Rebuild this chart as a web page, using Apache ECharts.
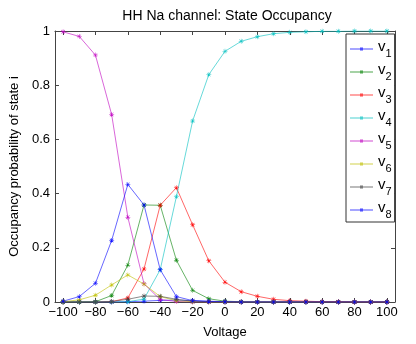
<!DOCTYPE html>
<html>
<head>
<meta charset="utf-8">
<script src="https://cdn.jsdelivr.net/npm/echarts@6/dist/echarts.min.js"></script>
<style>
  html, body { margin: 0; padding: 0; background: #fff; }
  #chart { width: 416px; height: 344px; }
</style>
</head>
<body>
<div id="chart"></div>
<script>
// voltages -100..100 mV
const voltage = [-100, -90, -80, -70, -60, -50, -40, -30, -20, -10, 0, 10, 20, 30, 40, 50, 60, 70, 80, 90, 100]
const xTicks = [-100, -80, -60, -40, -20, 0, 20, 40, 60, 80, 100]

const v1 = [0, 0, 0, 0, 0.001, 0.003, 0.006, 0.007, 0.005, 0.003, 0.001, 0, 0, 0, 0, 0, 0, 0, 0, 0, 0]
const v2 = [0, 0, 0.001, 0.024, 0.136, 0.358, 0.357, 0.154, 0.043, 0.012, 0.003, 0.001, 0, 0, 0, 0, 0, 0, 0, 0, 0]
const v3 = [0, 0, 0, 0.001, 0.015, 0.122, 0.357, 0.422, 0.285, 0.152, 0.073, 0.038, 0.021, 0.01, 0.005, 0.003, 0.001, 0.001, 0, 0, 0]
const v4 = [0, 0, 0, 0, 0.001, 0.011, 0.119, 0.389, 0.668, 0.839, 0.925, 0.962, 0.979, 0.99, 0.995, 0.997, 0.999, 0.999, 1, 1, 1]
const v5 = [0.997, 0.98, 0.911, 0.692, 0.313, 0.067, 0.009, 0.002, 0, 0, 0, 0, 0, 0, 0, 0, 0, 0, 0, 0, 0]
const v6 = [0.001, 0.008, 0.025, 0.063, 0.1, 0.066, 0.02, 0.005, 0.001, 0, 0, 0, 0, 0, 0, 0, 0, 0, 0, 0, 0]
const v7 = [0, 0, 0, 0.002, 0.01, 0.022, 0.021, 0.01, 0.003, 0.001, 0, 0, 0, 0, 0, 0, 0, 0, 0, 0, 0]
const v8 = [0.003, 0.02, 0.069, 0.227, 0.434, 0.358, 0.119, 0.02, 0.005, 0.002, 0.001, 0, 0, 0, 0, 0, 0, 0, 0, 0, 0]

const names = ['v1', 'v2', 'v3', 'v4', 'v5', 'v6', 'v7', 'v8']
const values = [v1, v2, v3, v4, v5, v6, v7, v8]
const colors = ['#0000ff', '#008000', '#ff0000', '#00bfbf', '#bf00bf', '#bfbf00', '#404040', '#0000ff']

// asterisk marker like matlab '*'
const STAR = 'path://M0,4.5L10,4.5L10,5.5L0,5.5Z M4.5,0L5.5,0L5.5,10L4.5,10Z M1.1,1.8L1.8,1.1L8.9,8.2L8.2,8.9Z M8.2,1.1L8.9,1.8L1.8,8.9L1.1,8.2Z'
// legend icon: thin line with a small square in the middle
const LEG_ICON = 'path://M0,1.6L23,1.6L23,2.4L0,2.4Z M10,0.5L13,0.5L13,3.5L10,3.5Z'

const FONT = 'Liberation Sans'
const minus = v => String(v).replace('-', '\u2212')

const chart = echarts.init(document.getElementById('chart'), null, { renderer: 'canvas' })

const series = names.map((n, i) => ({
  name: n,
  type: 'line',
  data: voltage.map((x, j) => [x, values[i][j]]),
  symbol: STAR,
  symbolSize: 5,
  showSymbol: true,
  itemStyle: { color: colors[i], opacity: 0.85 },
  lineStyle: { color: colors[i], width: 1, opacity: 0.6 },
  emphasis: { disabled: true },
  animation: false
}))

const axisLine = { show: true, onZero: false, lineStyle: { color: '#444', width: 1 } }
const tick = { show: true, inside: true, length: 4, lineStyle: { color: '#444' } }

chart.setOption({
  backgroundColor: '#fff',
  title: {
    text: 'HH Na channel: State Occupancy',
    left: 222,
    textAlign: 'center',
    top: 4,
    textStyle: { fontFamily: FONT, fontSize: 14, fontWeight: 'normal', color: '#000' }
  },
  grid: { left: 48, right: 21, top: 31, bottom: 39 },
  legend: {
    orient: 'vertical',
    left: 346,
    top: 34,
    padding: [5, 3, 2, 4],
    itemWidth: 23,
    itemHeight: 4,
    itemGap: 3,
    borderColor: '#333',
    borderWidth: 1,
    backgroundColor: '#fff',
    data: names.map(n => ({ name: n, icon: LEG_ICON, itemStyle: { opacity: 0.7 } })),
    formatter: n => '{a|v}{b|' + n.slice(1) + '}',
    textStyle: {
      fontFamily: FONT,
      color: '#000',
      rich: {
        a: { fontFamily: FONT, fontSize: 15, lineHeight: 20, verticalAlign: 'top', color: '#000' },
        b: { fontFamily: FONT, fontSize: 11, lineHeight: 20, verticalAlign: 'bottom', color: '#000' }
      }
    }
  },
  xAxis: [{
    type: 'value',
    min: -105,
    max: 105,
    name: 'Voltage',
    nameLocation: 'middle',
    nameGap: 24,
    nameTextStyle: { fontFamily: FONT, fontSize: 13, color: '#000' },
    axisLine: axisLine,
    axisTick: Object.assign({ customValues: xTicks }, tick),
    axisLabel: { customValues: xTicks, formatter: minus, fontFamily: FONT, fontSize: 13, color: '#000', margin: 4 },
    splitLine: { show: false }
  }, {
    type: 'value',
    position: 'top',
    min: -105,
    max: 105,
    axisLine: axisLine,
    axisTick: Object.assign({ customValues: xTicks }, tick),
    axisLabel: { show: false },
    splitLine: { show: false }
  }],
  yAxis: [{
    type: 'value',
    min: 0,
    max: 1,
    interval: 0.2,
    name: 'Occupancy probability of state i',
    nameLocation: 'middle',
    nameGap: 33,
    nameTextStyle: { fontFamily: FONT, fontSize: 13, color: '#000' },
    axisLine: axisLine,
    axisTick: tick,
    axisLabel: { fontFamily: FONT, fontSize: 13, color: '#000', margin: 5 },
    splitLine: { show: false }
  }, {
    type: 'value',
    position: 'right',
    min: 0,
    max: 1,
    interval: 0.2,
    axisLine: axisLine,
    axisTick: tick,
    axisLabel: { show: false },
    splitLine: { show: false }
  }],
  series: series
})
</script>
</body>
</html>
